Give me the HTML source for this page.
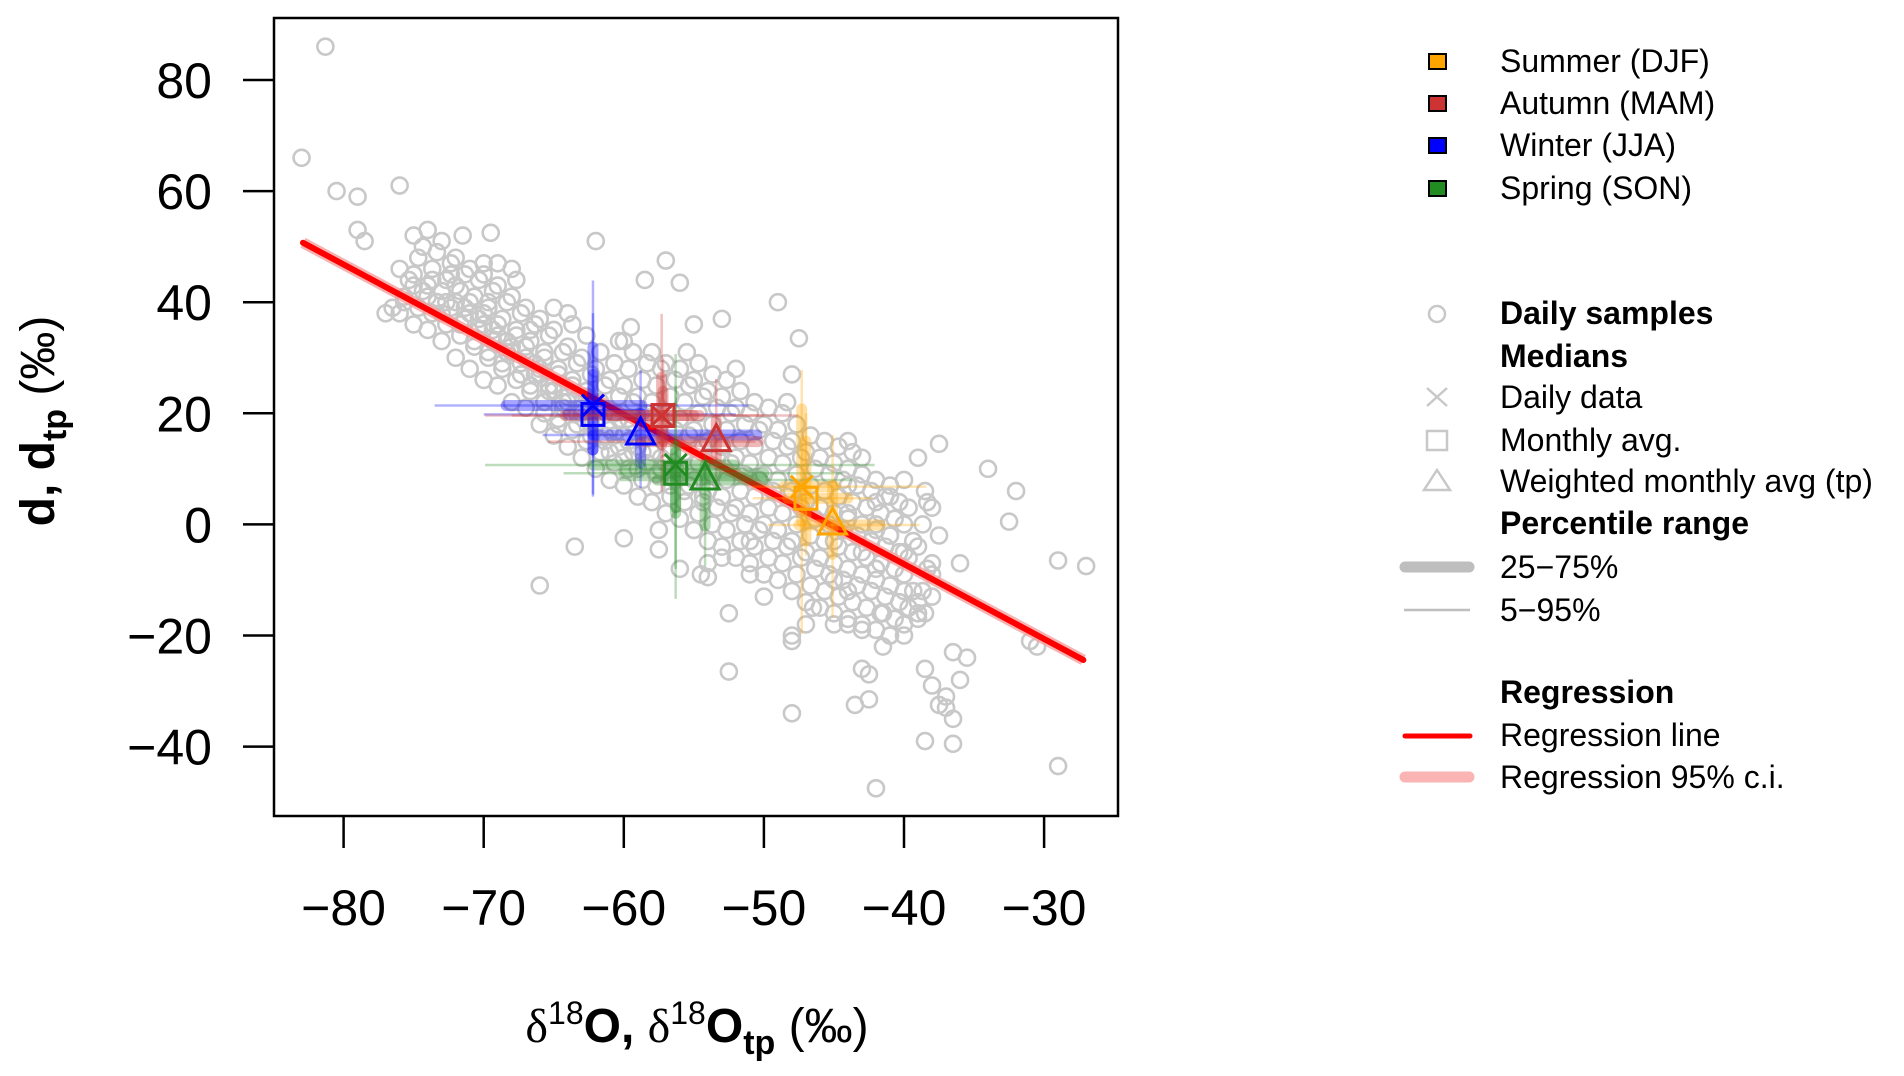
<!DOCTYPE html>
<html><head><meta charset="utf-8"><style>
html,body{margin:0;padding:0;background:#fff;}
svg{display:block;font-family:"Liberation Sans",Arial,sans-serif;}
</style></head><body>
<svg id="chart" width="1904" height="1076" viewBox="0 0 1904 1076" xmlns="http://www.w3.org/2000/svg">
<g id="plot"></g>
<g id="axes"></g>
<g id="legend"></g>
</svg>
<script>
// ---------- data ----------
const xTicks = [-80,-70,-60,-50,-40,-30];
const yTicks = [80,60,40,20,0,-20,-40];
const outX = [-81.3,-83,-80.5,-79,-79,-78.5,-76,-74,-75,-73,-71.5,-69.5,-62,-58.5,-57,-56,-49,-47.5,-59.5,-55,-53,-68,-69,-70,-77,-76.5,-65,-64,-60,-55.5,-52,-48,-44,-37.5,-34,-32,-32.5,-29,-27,-31,-30.5,-29,-42,-38.5,-36.5,-38.5,-38,-37,-37.5,-36.5,-37,-36,-35.5,-36.5,-42.5,-43.5,-43,-42.5,-48,-52.5,-63.5,-66,-60,-57.5,-57.5,-54.5,-54,-54,-56,-50,-48,-48,-47,-46.5,-45,-44,-43,-41.5,-41,-41.5,-40,-39,-38,-38.5,-39,-40,-38,-38,-37.5,-36,-38,-38.5,-39,-40,-41,-42,-43,-44,-52.5,-51,-53,-55,-51,-49,-48,-46,-45,-44,-42,-45,-43,-41,-40,-42,-44];
const outY = [86,66,60,59,53,51,61,53,52,51,52,52.5,51,44,47.5,43.5,40,33.5,35.5,36,37,46,47,47,38,39,39,38,33,31,28,27,15,14.5,10,6,0.5,-6.5,-7.5,-21,-22,-43.5,-47.5,-39,-39.5,-26,-29,-31,-32.5,-35,-33,-28,-24,-23,-31.5,-32.5,-26,-27,-34,-26.5,-4,-11,-2.5,-1,-4.5,-9,-9.5,-7,-8,-13,-20,-21,-18,-15,-18,-18,-19,-16,-20,-22,-20,-14,-13,-16,-17,-12,-9,-7,-2,-7,3,6,12,8,5,4,12,7,-16,-9,-6,-1,-3,-1,-3,-6,-10,-12,-8,-3,-5,-2,-5,0,2];
const bandX = [-76,-75,-74,-73,-72,-71,-70,-69,-68,-67,-66,-65,-64,-63,-62,-61,-60,-59,-58,-57,-56,-55,-54,-53,-52,-51,-50,-49,-48,-47,-46,-45,-44,-43,-42,-41,-40,-39];
const bandY = [
 [38,41,44,46,40],[36,39,42,45,48,50,43],[35,38,40,43,46,49,41,44],[33,36,39,42,44,47,38,40,45],
 [30,34,37,40,42,45,48,36,39,43],[28,32,35,38,41,44,46,33,37,40],[26,30,33,36,39,42,45,31,35,38,40],
 [25,28,31,34,37,40,43,29,33,36],[22,26,29,32,35,38,41,44,27,31,34],[21,24,27,30,33,36,39,25,29,32,35],
 [18,22,25,28,31,34,37,20,24,27,30],[16,19,22,25,28,31,35,18,21,24,27],[14,17,20,23,26,29,32,36,18,22,25],
 [12,15,18,21,24,27,30,34,16,20,23],[10,13,16,19,22,25,28,31,15,18,21],[8,11,14,17,20,23,26,29,33,13,16,19],
 [7,10,13,16,19,22,25,28,31,12,15,18],[5,8,11,14,17,20,23,26,29,10,13],[4,7,10,13,16,19,22,25,28,31,9,12],
 [2,5,8,11,14,17,20,23,26,29,7,10],[1,4,7,10,13,16,19,22,25,28,6],[-1,2,5,8,11,14,17,20,23,26,29,4],
 [-3,0,3,6,9,12,15,18,21,24,27],[-4,-1,2,5,8,11,14,17,20,23,26],[-6,-3,0,3,6,9,12,15,18,21,24],
 [-7,-4,-1,2,5,8,11,14,17,20,22],[-9,-6,-3,0,3,6,9,12,15,18,21],[-10,-7,-4,-1,2,5,8,11,14,17,20,22],
 [-12,-9,-6,-3,0,3,6,9,12,15,18],[-14,-11,-8,-5,-2,1,4,7,10,13,16],[-15,-12,-9,-6,-3,0,3,6,9,12,15],
 [-16,-13,-10,-7,-4,-1,2,5,8,11,14],[-17,-14,-11,-8,-5,-2,1,4,7,10,13],[-18,-15,-12,-9,-6,-3,0,3,6,9],
 [-19,-16,-13,-10,-7,-4,-1,2,5,8],[-20,-17,-14,-11,-8,-5,-2,1,4,7],[-18,-15,-12,-9,-6,-3,0,3],[-16,-12,-8,-4,0,4]];
const regX = [-82.9,-27.2];
const regY = [50.7,-24.4];
const medSeason = ['JJA','JJA','JJA','MAM','MAM','MAM','SON','SON','SON','DJF','DJF','DJF'];
const medShape  = ['x','sq','tri','x','sq','tri','x','sq','tri','x','sq','tri'];
const medX = [-62.2,-62.2,-58.8,-57.3,-57.2,-53.4,-56.3,-56.3,-54.2,-47.3,-47.0,-45.1];
const medY = [21.4,19.8,16.1,19.6,19.6,14.9,10.7,9.2,8.0,6.8,4.7,-0.1];
const x05 = [-73.5,-70,-65.8,-69.9,-68,-65.4,-69.9,-64.3,-60.3,-50.8,-50.8,-49.7];
const x95 = [-51.1,-52,-50.9,-47.5,-50,-50.6,-42.1,-44.4,-43.7,-38.4,-42.3,-38.9];
const x25 = [-68.4,-64,-62.2,-64.2,-61,-58.7,-62.2,-60,-57.6,-48.6,-48.3,-47.5];
const x75 = [-58.7,-58.5,-50.5,-54.6,-55,-50.4,-52.1,-50,-50,-44.9,-44,-41.7];
const y05 = [5.4,5,6.5,5.9,8,6.2,-13.4,-8,-7.5,-19.7,-5.6,-16.8];
const y95 = [43.9,38,27.8,37.9,30,26.2,30.7,25,12.5,27.8,20,16.1];
const y25 = [13.4,13.4,11,14.3,15,11.3,2,3,-0.3,0.5,-3,-5.4];
const y75 = [31.9,27,20,26.5,24,18.8,14,13,10.7,20.8,15,7.1];
const seasonColor = {DJF:'#FFA500',MAM:'#CD3333',JJA:'#0000FF',SON:'#228B22'};

// ---------- scales ----------
const X0=274,X1=1118,Y0=18,Y1=816;
const sx = v => 343.6 + (v+80)*14.01;
const sy = v => 524.4 - v*5.555;
const NS='http://www.w3.org/2000/svg';
function mk(tag, attrs, parent){const e=document.createElementNS(NS,tag);for(const k in attrs)e.setAttribute(k,attrs[k]);parent.appendChild(e);return e;}
const plot=document.getElementById('plot'), axes=document.getElementById('axes');

const defs=mk('defs',{},plot);
const cp=mk('clipPath',{id:'clip'},defs);
mk('rect',{x:X0,y:Y0,width:X1-X0,height:Y1-Y0},cp);
const inner=mk('g',{'clip-path':'url(#clip)'},plot);



function pt(x,y){const c=mk('circle',{cx:sx(x),cy:sy(y),r:8,fill:'none',stroke:'#c8c8c8','stroke-width':2.6},inner);

}
bandX.forEach((x,i)=>bandY[i].forEach((y,j)=>pt(x+(j%3)*0.33,y)));
outX.forEach((x,i)=>pt(x,outY[i]));

const ci=mk('line',{x1:sx(regX[0]),y1:sy(regY[0]),x2:sx(regX[1]),y2:sy(regY[1]),stroke:'#f4a0a0','stroke-opacity':0.8,'stroke-width':11},inner);


const rl=mk('line',{x1:sx(regX[0]),y1:sy(regY[0]),x2:sx(regX[1]),y2:sy(regY[1]),stroke:'#ff0000','stroke-width':6,'stroke-linecap':'round'},inner);



medX.forEach((x,i)=>{
  const c=seasonColor[medSeason[i]], y=medY[i];
  const g=mk('g',{},inner);
  
  
  mk('line',{x1:sx(x05[i]),y1:sy(y),x2:sx(x95[i]),y2:sy(y),stroke:c,'stroke-opacity':0.3,'stroke-width':2.5},g);
  mk('line',{x1:sx(x),y1:sy(y05[i]),x2:sx(x),y2:sy(y95[i]),stroke:c,'stroke-opacity':0.3,'stroke-width':2.5},g);
  mk('line',{x1:sx(x25[i]),y1:sy(y),x2:sx(x75[i]),y2:sy(y),stroke:c,'stroke-opacity':0.35,'stroke-width':11,'stroke-linecap':'round'},g);
  mk('line',{x1:sx(x),y1:sy(y25[i]),x2:sx(x),y2:sy(y75[i]),stroke:c,'stroke-opacity':0.35,'stroke-width':11,'stroke-linecap':'round'},g);
});
medX.forEach((x,i)=>{
  const c=seasonColor[medSeason[i]], px=sx(x), py=sy(medY[i]);
  let e;
  if(medShape[i]==='x') e=mk('path',{d:`M${px-11} ${py-11}L${px+11} ${py+11}M${px-11} ${py+11}L${px+11} ${py-11}`,stroke:c,'stroke-width':3,fill:'none'},inner);
  else if(medShape[i]==='sq') e=mk('rect',{x:px-11,y:py-11,width:22,height:22,stroke:c,'stroke-width':3,fill:'none'},inner);
  else e=mk('path',{d:`M${px} ${py-17}L${px+14} ${py+9}L${px-14} ${py+9}Z`,stroke:c,'stroke-width':3,fill:'none'},inner);
  
  
});

const box=mk('rect',{x:X0,y:Y0,width:X1-X0,height:Y1-Y0,fill:'none',stroke:'#000','stroke-width':2.5},axes);


xTicks.forEach(v=>{
  mk('line',{x1:sx(v),y1:Y1,x2:sx(v),y2:Y1+32,stroke:'#000','stroke-width':2.5},axes);
  const t=mk('text',{x:sx(v),y:925,'text-anchor':'middle','font-size':50},axes);
  t.textContent=(v<0?'\u2212':'')+Math.abs(v);
  
  
});
yTicks.forEach(v=>{
  mk('line',{x1:X0-31,y1:sy(v),x2:X0,y2:sy(v),stroke:'#000','stroke-width':2.5},axes);
  const t=mk('text',{x:212,y:sy(v)+18,'text-anchor':'end','font-size':50},axes);
  t.textContent=(v<0?'\u2212':'')+Math.abs(v);
  
  
});
</script>
<svg style="position:absolute;left:0;top:0" width="1904" height="1076" xmlns="http://www.w3.org/2000/svg">
<g font-family="Liberation Sans, Arial, sans-serif">
<text x="697" y="1042" text-anchor="middle" font-size="48"><tspan font-family="Liberation Serif, serif">δ</tspan><tspan font-size="32" dy="-18">18</tspan><tspan dy="18" font-weight="bold">O, </tspan><tspan font-family="Liberation Serif, serif">δ</tspan><tspan font-size="32" dy="-18">18</tspan><tspan dy="18" font-weight="bold">O</tspan><tspan font-weight="bold" font-size="34" dy="12">tp</tspan><tspan dy="-12"> (‰)</tspan></text>
<text transform="translate(54,421) rotate(-90)" text-anchor="middle" font-size="48"><tspan font-weight="bold">d, d</tspan><tspan font-weight="bold" font-size="34" dy="12">tp</tspan><tspan dy="-12"> (‰)</tspan></text>
<g font-size="32">
<rect x="1429" y="54" width="17" height="15" fill="#FFA500" stroke="#000" stroke-width="2"/>
<text x="1500" y="72">Summer (DJF)</text>
<rect x="1429" y="96" width="17" height="15" fill="#CD3333" stroke="#000" stroke-width="2"/>
<text x="1500" y="114">Autumn (MAM)</text>
<rect x="1429" y="138" width="17" height="15" fill="#0000FF" stroke="#000" stroke-width="2"/>
<text x="1500" y="156">Winter (JJA)</text>
<rect x="1429" y="181" width="17" height="15" fill="#228B22" stroke="#000" stroke-width="2"/>
<text x="1500" y="199">Spring (SON)</text>
<circle cx="1437" cy="314" r="8" fill="none" stroke="#c8c8c8" stroke-width="2.5"/>
<text x="1500" y="324" font-weight="bold">Daily samples</text>
<text x="1500" y="367" font-weight="bold">Medians</text>
<path d="M1427 388L1447 406M1427 406L1447 388" stroke="#c8c8c8" stroke-width="2.5"/>
<text x="1500" y="408">Daily data</text>
<rect x="1427" y="431" width="20" height="19" fill="none" stroke="#c8c8c8" stroke-width="2.5"/>
<text x="1500" y="451">Monthly avg.</text>
<path d="M1437 470L1450 490L1424 490Z" fill="none" stroke="#c8c8c8" stroke-width="2.5"/>
<text x="1500" y="492">Weighted monthly avg (tp)</text>
<text x="1500" y="534" font-weight="bold">Percentile range</text>
<line x1="1405" y1="567" x2="1469" y2="567" stroke="#bebebe" stroke-width="11" stroke-linecap="round"/>
<text x="1500" y="578">25−75%</text>
<line x1="1404" y1="610" x2="1470" y2="610" stroke="#bebebe" stroke-width="2.5"/>
<text x="1500" y="621">5−95%</text>
<text x="1500" y="703" font-weight="bold">Regression</text>
<line x1="1405" y1="736" x2="1470" y2="736" stroke="#ff0000" stroke-width="5" stroke-linecap="round"/>
<text x="1500" y="746">Regression line</text>
<line x1="1405" y1="777" x2="1469" y2="777" stroke="#fbb4b4" stroke-width="11" stroke-linecap="round"/>
<text x="1500" y="788">Regression 95% c.i.</text>
</g></g></svg>
</body></html>
